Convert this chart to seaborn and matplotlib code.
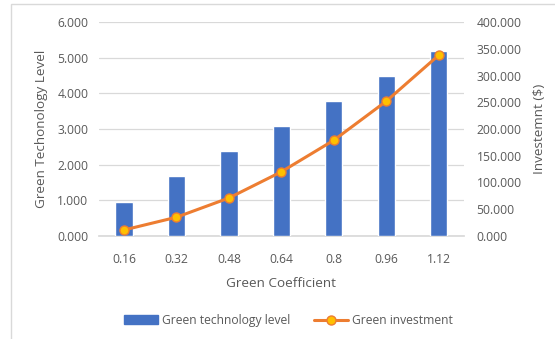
import numpy as np
import pandas as pd
import matplotlib
matplotlib.use("Agg")
import matplotlib.pyplot as plt
import seaborn as sns
from matplotlib.patches import Rectangle
from matplotlib.lines import Line2D
from matplotlib.patches import Patch

categories = ["0.16", "0.32", "0.48", "0.64", "0.8", "0.96", "1.12"]
tech_level = [0.96, 1.67, 2.37, 3.07, 3.78, 4.49, 5.20]
investment = [11.2, 35.0, 71.0, 120.0, 179.0, 252.0, 338.0]

sns.set_theme(style="white")
plt.rcParams['font.family'] = ['Open Sans', 'DejaVu Sans']

TXT = "#595959"
BLUE = "#4472C4"
ORANGE = "#ED7D31"
GOLD = "#FFC000"

fig = plt.figure(figsize=(5.55, 3.39), dpi=100)
ax = fig.add_axes([0.178, 0.304, 0.658, 0.631])

df = pd.DataFrame({"coef": categories, "tech": tech_level, "inv": investment})
sns.barplot(data=df, x="coef", y="tech", color=BLUE, width=0.33, ax=ax,
            saturation=1, zorder=3)
ax.set_ylim(0, 6)
ax.set_yticks(np.arange(0, 6.01, 1))
ax.set_yticklabels([f"{v:.3f}" for v in np.arange(0, 6.01, 1)])
ax.grid(axis="y", color="#D9D9D9", lw=0.9, zorder=0)
ax.set_axisbelow(True)
for s in ["top", "right", "left"]:
    ax.spines[s].set_visible(False)
ax.spines["bottom"].set_color("#D9D9D9")
ax.tick_params(axis="both", colors=TXT, labelsize=8.7, length=0, pad=7.5)
ax.tick_params(axis="x", pad=12)
ax.set_xlabel("Green Coefficient", color=TXT, fontsize=9.7, labelpad=8)
ax.set_ylabel("Green Techonology Level", color=TXT, fontsize=9.7, labelpad=7)

ax2 = ax.twinx()
sns.lineplot(x=np.arange(len(categories)), y=investment, ax=ax2, color=ORANGE,
             lw=2.2, marker="o", markersize=6.5, markerfacecolor=GOLD,
             markeredgecolor=ORANGE, markeredgewidth=1, zorder=5)
ax2.set_ylim(0, 400)
ax2.set_yticks(np.arange(0, 401, 50))
ax2.set_yticklabels([f"{v:.3f}" for v in np.arange(0, 401, 50)])
for s in ax2.spines.values():
    s.set_visible(False)
ax2.tick_params(axis="y", colors=TXT, labelsize=8.7, length=0, pad=9)
ax2.set_ylabel("Investemnt ($)", color=TXT, fontsize=9.7, labelpad=8)
ax2.grid(False)

handles = [Patch(facecolor=BLUE, edgecolor=BLUE),
           Line2D([0], [0], color=ORANGE, lw=2.2, marker="o", markersize=6.5,
                  markerfacecolor=GOLD, markeredgecolor=ORANGE)]
fig.legend(handles, ["Green technology level", "Green investment"],
           loc="center", bbox_to_anchor=(0.52, 0.055), ncol=2, frameon=False,
           fontsize=8.7, labelcolor=TXT, handlelength=2.8, handletextpad=0.3,
           columnspacing=2.0)

fig.patches.append(Rectangle((11/555, -0.1), 1.2, 1 - 4/339 + 0.1,
                             transform=fig.transFigure, fill=False,
                             edgecolor="#D9D9D9", lw=1, clip_on=False))

fig.savefig("out.png", dpi=100)
